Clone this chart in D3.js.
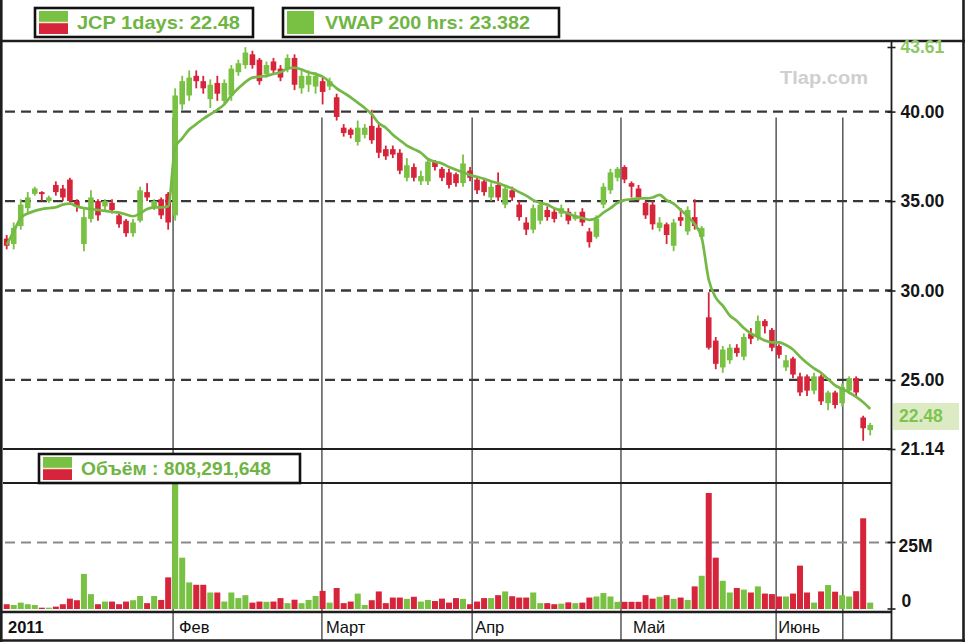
<!DOCTYPE html>
<html>
<head>
<meta charset="utf-8">
<script src="https://cdn.jsdelivr.net/npm/d3@7"></script>
<style>
  html, body { margin: 0; padding: 0; background: #fff; }
  svg { display: block; font-family: "Liberation Sans", Arial, Helvetica, sans-serif; }
</style>
</head>
<body>
<svg id="chart" width="965" height="642"></svg>
<script>
// daily bars, JCP, early 2011
const opens = [
  32.9, 32.6, 33.6, 34.6, 35.4, 35.5, 35.0, 35.9, 35.7, 36.2,
  35.0, 32.6, 34.0, 35.0, 34.7, 34.9, 34.2, 33.9, 33.2, 33.9,
  35.5, 34.6, 35.1, 35.4, 34.2, 40.4, 40.9, 42.0, 41.7, 40.7,
  41.6, 40.6, 40.9, 42.2, 42.6, 43.2, 42.9, 42.1, 42.8, 42.4,
  42.4, 43.0, 41.3, 41.5, 41.4, 41.7, 41.4, 40.8, 39.1, 39.0,
  38.3, 38.7, 39.2, 39.1, 37.9, 37.9, 37.7, 36.3, 36.9, 36.1,
  36.1, 37.2, 36.8, 36.6, 36.5, 36.0, 36.7, 36.2, 36.1, 35.2,
  35.9, 34.8, 35.6, 34.8, 33.8, 33.4, 33.9, 34.5, 34.4, 34.3,
  34.4, 34.0, 34.4, 33.3, 33.0, 34.8, 35.6, 36.3, 36.9, 36.0,
  35.7, 34.9, 34.8, 33.5, 33.7, 32.5, 34.1, 33.3, 34.1, 33.0,
  28.5, 27.2, 25.7, 26.1, 26.8, 26.3, 27.6, 27.4, 28.3, 27.8,
  26.9, 25.7, 26.2, 25.2, 25.2, 24.4, 25.2, 23.7, 24.3, 23.7,
  24.4, 25.1, 22.9, 22.2
];
const highs = [
  33.1, 33.8, 35.1, 35.5, 35.8, 35.55, 35.3, 36.1, 35.9, 36.3,
  35.1, 34.6, 35.6, 35.1, 35.1, 35.1, 34.4, 34.0, 34.0, 35.8,
  36.0, 35.1, 35.2, 35.5, 41.3, 42.0, 42.3, 42.3, 42.0, 41.8,
  42.0, 41.8, 42.6, 42.9, 43.6, 43.4, 43.0, 42.8, 43.0, 42.6,
  43.2, 43.2, 42.3, 42.3, 42.2, 41.9, 41.9, 41.0, 39.3, 39.1,
  39.5, 39.3, 40.1, 39.3, 38.1, 38.1, 37.9, 37.4, 37.1, 36.7,
  37.3, 37.3, 36.9, 36.8, 36.6, 37.6, 36.9, 36.3, 36.2, 36.0,
  36.6, 35.9, 35.8, 35.0, 34.1, 34.8, 35.0, 34.7, 34.6, 34.8,
  34.6, 34.4, 34.6, 33.5, 34.2, 36.0, 36.8, 36.9, 37.0, 36.1,
  35.9, 35.0, 35.0, 34.1, 33.8, 34.0, 34.6, 34.7, 35.1, 33.6,
  29.9, 27.4, 26.9, 27.0, 27.0, 27.6, 27.9, 28.6, 28.4, 27.9,
  27.0, 26.4, 26.3, 25.4, 25.3, 25.4, 25.3, 24.4, 24.4, 24.8,
  25.2, 25.2, 23.0, 22.6
];
const lows = [
  32.3, 32.3, 33.4, 34.3, 35.3, 35.0, 34.9, 35.3, 35.0, 34.9,
  34.4, 32.2, 33.8, 33.9, 34.5, 34.3, 33.5, 33.0, 33.0, 33.8,
  35.0, 34.5, 34.0, 33.4, 33.9, 40.1, 40.6, 41.3, 41.0, 40.2,
  40.6, 40.4, 40.6, 42.0, 42.4, 42.4, 41.5, 41.9, 42.1, 41.7,
  42.2, 41.2, 41.0, 41.1, 41.0, 40.4, 41.2, 39.5, 38.6, 38.5,
  38.1, 38.5, 38.2, 37.4, 37.3, 37.4, 36.5, 36.1, 36.1, 35.9,
  35.9, 36.7, 36.1, 35.7, 35.8, 35.8, 36.1, 35.4, 35.3, 35.0,
  35.0, 34.6, 35.0, 33.9, 33.1, 33.2, 33.7, 33.9, 33.8, 34.1,
  33.7, 33.9, 33.6, 32.4, 32.9, 34.6, 35.4, 36.1, 36.0, 35.2,
  35.0, 34.0, 33.4, 33.3, 32.6, 32.2, 33.6, 33.1, 33.4, 32.8,
  26.7, 25.6, 25.4, 25.9, 26.3, 26.1, 27.0, 27.2, 27.6, 26.6,
  26.2, 25.5, 25.1, 24.1, 24.1, 24.2, 23.6, 23.3, 23.4, 23.5,
  24.2, 24.0, 21.6, 21.9
];
const closes = [
  32.5, 33.5, 34.8, 35.2, 35.7, 35.4, 35.2, 35.5, 35.2, 35.0,
  34.7, 34.1, 35.2, 34.2, 35.0, 34.5, 33.7, 33.2, 33.8, 35.6,
  35.2, 35.0, 34.2, 33.8, 40.9, 41.7, 41.9, 41.7, 41.3, 41.5,
  41.0, 41.6, 42.4, 42.7, 43.3, 42.6, 41.7, 42.6, 42.3, 41.9,
  43.0, 41.5, 42.0, 42.0, 42.0, 41.1, 41.7, 39.7, 38.8, 38.7,
  39.1, 39.1, 38.4, 37.7, 37.5, 37.6, 36.7, 37.0, 36.3, 36.4,
  37.2, 36.9, 36.3, 35.9, 36.0, 37.1, 36.3, 35.6, 35.5, 35.8,
  35.2, 35.7, 35.2, 34.1, 33.4, 34.6, 34.8, 34.1, 34.0, 34.6,
  33.9, 34.2, 33.8, 32.7, 34.0, 35.8, 36.6, 36.8, 36.2, 35.8,
  35.2, 34.2, 33.7, 33.8, 33.1, 33.8, 33.9, 34.5, 33.6, 33.5,
  26.8, 25.9, 26.7, 26.8, 26.5, 27.4, 27.3, 28.3, 28.0, 26.8,
  26.4, 26.1, 25.3, 24.3, 24.4, 25.2, 23.8, 24.3, 23.6, 24.6,
  25.1, 24.3, 22.3, 22.48
];
// volume, millions of shares
const volumes = [
  1.8, 1.5, 2.4, 1.8, 1.5, 0.5, 0.5, 0.9, 1.8, 3.9,
  3.3, 13.2, 5.6, 1.8, 2.8, 2.8, 1.8, 2.8, 3.3, 4.9,
  2.2, 4.9, 3.4, 11.9, 47.4, 19.3, 10.0, 9.1, 9.1, 6.2,
  6.2, 2.8, 6.2, 4.1, 5.2, 2.4, 2.8, 2.7, 2.8, 4.1,
  2.2, 3.5, 2.2, 3.4, 4.9, 6.8, 2.4, 7.9, 2.2, 2.8,
  5.8, 1.5, 3.3, 6.6, 2.2, 4.3, 4.3, 3.8, 4.6, 2.8,
  3.4, 3.0, 3.9, 2.4, 4.1, 3.8, 1.8, 2.8, 4.1, 4.1,
  5.2, 6.6, 4.8, 4.3, 4.3, 6.2, 2.2, 2.2, 1.8, 2.0,
  2.5, 2.2, 2.4, 4.3, 4.7, 6.0, 4.7, 2.7, 2.7, 2.7,
  2.7, 5.2, 3.9, 4.6, 5.2, 3.8, 4.3, 3.4, 8.5, 12.5,
  43.6, 19.3, 10.6, 6.2, 7.9, 7.3, 6.2, 8.5, 5.8, 5.6,
  4.7, 4.7, 5.8, 16.3, 6.2, 2.4, 6.6, 9.0, 6.5, 5.2,
  4.7, 6.7, 34.1, 2.4
];
// VWAP 200 hrs, one value per bar
const vwap = [
  32.55, 33.3, 34.05, 34.3, 34.45, 34.55, 34.6, 34.65, 34.8, 34.85,
  34.7, 34.6, 34.55, 34.5, 34.45, 34.4, 34.35, 34.25, 34.15, 34.3,
  34.55, 34.65, 34.65, 34.7, 38.0, 38.5, 39.0, 39.3, 39.6, 39.85,
  40.1, 40.4, 40.9, 41.3, 41.65, 41.9, 41.95, 42.0, 42.1, 42.2,
  42.4, 42.45, 42.35, 42.2, 42.1, 41.95, 41.65, 41.3, 41.05, 40.8,
  40.5, 40.2, 39.85, 39.35, 39.1, 38.7, 38.4, 38.1, 37.9, 37.7,
  37.35, 37.2, 37.1, 36.9, 36.75, 36.6, 36.45, 36.35, 36.25, 36.1,
  36.0, 35.85, 35.7, 35.5, 35.3, 35.05, 34.9, 34.8, 34.6, 34.45,
  34.3, 34.15, 34.05, 33.95, 34.05, 34.35, 34.6, 34.9, 35.05, 35.1,
  35.15, 35.15, 35.2, 35.35, 35.05, 34.85, 34.5, 34.15, 33.7, 32.95,
  30.6, 29.6, 29.15, 28.6, 28.3, 27.9, 27.6, 27.4, 27.2, 27.1,
  27.1, 26.95, 26.7, 26.3, 25.95, 25.65, 25.4, 25.05, 24.7, 24.5,
  24.3, 24.05, 23.75, 23.38
];

// time axis: bar index where each month starts
const monthLabels = ['2011', 'Фев', 'Март', 'Апр', 'Май', 'Июнь', ''];
const monthPos = [0.2, 23.7, 44.9, 66.3, 87.5, 109.6, 119.1];

const priceTicks = [25, 30, 35, 40];
const priceMin = 21.14, priceMax = 43.61, lastPrice = 22.48;
const volTicks = [0, 25];
const volLabels = ['0', '25M'];

const GREEN = '#79c143', RED = '#d6243a', TXT_GREEN = '#6fb543';

const svg = d3.select('#chart');

// layout
const plotLeft = 3, plotRight = 891;
const priceTop = 42;
const volTop = 483, volBottom = 612;

const x = d3.scaleLinear().domain([0, opens.length - 1]).range([6.7, 870.2]);
const y = d3.scaleLinear().domain([priceMin, priceMax]).range([449, 47]);
const yv = d3.scaleLinear().domain([0, 25]).range([609, 542.5]);

svg.append('rect').attr('width', 965).attr('height', 642).attr('fill', '#fff');

// vertical month lines (behind everything)
svg.append('g').selectAll('line')
  .data(monthPos.slice(1))
  .join('line')
  .attr('x1', d => x(d)).attr('x2', d => x(d))
  .attr('y1', y(40) + 6).attr('y2', 640)
  .attr('stroke', '#4a4a4a').attr('stroke-width', 1.4);

// dashed price grid
svg.append('g').selectAll('line')
  .data(priceTicks)
  .join('line')
  .attr('x1', plotLeft + 2).attr('x2', plotRight)
  .attr('y1', d => y(d)).attr('y2', d => y(d))
  .attr('stroke', '#383838').attr('stroke-width', 2.3)
  .attr('stroke-dasharray', '10,6');

// dashed volume grid
svg.append('line')
  .attr('x1', plotLeft + 2).attr('x2', plotRight)
  .attr('y1', yv(25)).attr('y2', yv(25))
  .attr('stroke', '#8a8a8a').attr('stroke-width', 2)
  .attr('stroke-dasharray', '10,6');

// candles
const idx = d3.range(opens.length);
const candles = svg.append('g').selectAll('g')
  .data(idx)
  .join('g')
  .attr('fill', i => closes[i] >= opens[i] ? GREEN : RED)
  .attr('stroke', i => closes[i] >= opens[i] ? GREEN : RED);

candles.append('line')
  .attr('x1', i => x(i)).attr('x2', i => x(i))
  .attr('y1', i => y(highs[i])).attr('y2', i => y(lows[i]))
  .attr('stroke-width', 1.8);

candles.append('rect')
  .attr('x', i => x(i) - 2.8)
  .attr('width', 5.6)
  .attr('y', i => y(Math.max(opens[i], closes[i])))
  .attr('height', i => Math.max(2, Math.abs(y(opens[i]) - y(closes[i]))))
  .attr('stroke', 'none');

// VWAP line
svg.append('path')
  .datum(vwap)
  .attr('fill', 'none')
  .attr('stroke', '#74b946')
  .attr('stroke-width', 2.7)
  .attr('stroke-linejoin', 'round')
  .attr('d', d3.line().x((d, i) => x(i)).y(d => y(d)).curve(d3.curveMonotoneX));

// volume bars
svg.append('g').selectAll('rect')
  .data(idx)
  .join('rect')
  .attr('x', i => x(i) - 3)
  .attr('width', 6)
  .attr('y', i => yv(volumes[i]))
  .attr('height', i => yv(0) - yv(volumes[i]))
  .attr('fill', i => closes[i] >= opens[i] ? GREEN : RED);

// panel rules
const rules = svg.append('g').attr('stroke', '#1e1e1e');
rules.append('line').attr('x1', 0).attr('x2', 965).attr('y1', 41).attr('y2', 41).attr('stroke-width', 2.6);
rules.append('line').attr('x1', plotLeft).attr('x2', plotRight).attr('y1', y(priceMin)).attr('y2', y(priceMin)).attr('stroke-width', 2);
rules.append('line').attr('x1', plotLeft).attr('x2', plotRight).attr('y1', volTop).attr('y2', volTop).attr('stroke-width', 2);
rules.append('line').attr('x1', 0).attr('x2', plotRight).attr('y1', volBottom).attr('y2', volBottom).attr('stroke-width', 2.6);
rules.append('line').attr('x1', 0).attr('x2', 965).attr('y1', 640.5).attr('y2', 640.5).attr('stroke-width', 2.6);
rules.append('line').attr('x1', 1.3).attr('x2', 1.3).attr('y1', 0).attr('y2', 642).attr('stroke-width', 2.6);
rules.append('line').attr('x1', 963.5).attr('x2', 963.5).attr('y1', 0).attr('y2', 642).attr('stroke-width', 2.6);
rules.append('line').attr('x1', plotRight + 0.5).attr('x2', plotRight + 0.5).attr('y1', priceTop).attr('y2', 640).attr('stroke-width', 1.8);

// right price axis
const priceAxis = svg.append('g')
  .attr('transform', `translate(${plotRight + 0.5},0)`)
  .call(d3.axisRight(y).tickValues([priceMin, ...priceTicks, priceMax]).tickFormat(d3.format('.2f')).tickSize(4).tickPadding(5));
priceAxis.select('.domain').remove();
priceAxis.selectAll('.tick line').attr('x1', -4).attr('stroke', '#1e1e1e').attr('stroke-width', 1.6);
priceAxis.selectAll('.tick text')
  .attr('font-family', '"Liberation Sans", Arial, sans-serif')
  .attr('font-size', 17.5).attr('font-weight', 'bold')
  .attr('fill', d => d === priceMax ? '#8cc864' : '#151515');

// last price marker
const lastG = svg.append('g').attr('transform', `translate(${plotRight + 2},${y(lastPrice) - 9})`);
lastG.append('rect').attr('x', 0).attr('y', -13).attr('width', 66).attr('height', 27).attr('fill', '#dcebc4');
lastG.append('text').attr('x', 6).attr('y', 0).attr('dy', '0.35em')
  .attr('font-size', 17.5).attr('font-weight', 'bold').attr('fill', '#7cc44c').text(lastPrice.toFixed(2));

// right volume axis
const volAxis = svg.append('g').attr('transform', `translate(${plotRight + 0.5},0)`);
volAxis.selectAll('line').data(volTicks).join('line')
  .attr('x1', -4).attr('x2', 4)
  .attr('y1', d => yv(d)).attr('y2', d => yv(d))
  .attr('stroke', '#1e1e1e').attr('stroke-width', 1.6);
volAxis.selectAll('text').data(volTicks).join('text')
  .attr('x', (d, i) => i === 0 ? 10 : 7)
  .attr('y', d => d === 0 ? yv(d) - 8 : yv(d) + 3)
  .attr('dy', '0.35em')
  .attr('font-size', 17.5).attr('font-weight', 'bold').attr('fill', '#151515')
  .text((d, i) => volLabels[i]);

// month labels
const monthOffset = [0, 6, 4, 3, 12, 2, 0];
svg.append('g').selectAll('text').data(monthPos).join('text')
  .attr('x', (d, i) => i === 0 ? 8 : x(d) + monthOffset[i])
  .attr('y', 633)
  .attr('font-size', 16.5)
  .attr('font-weight', (d, i) => i === 0 ? 'bold' : 'normal')
  .attr('fill', '#111')
  .text((d, i) => monthLabels[i]);

// legend boxes
function legendBox(g, bx, by, bw, bh, swatch, label, textW) {
  g.append('rect').attr('x', bx).attr('y', by).attr('width', bw).attr('height', bh)
    .attr('fill', '#fff').attr('stroke', '#111').attr('stroke-width', 2.6);
  const sx = bx + 4, sy = by + 3, sw = 29, sh = bh - 6;
  if (swatch === 'split') {
    g.append('rect').attr('x', sx).attr('y', sy).attr('width', sw).attr('height', sh / 2).attr('fill', GREEN);
    g.append('rect').attr('x', sx).attr('y', sy + sh / 2).attr('width', sw).attr('height', sh / 2).attr('fill', RED);
    g.append('line').attr('x1', sx).attr('x2', sx + sw).attr('y1', sy + sh / 2).attr('y2', sy + sh / 2)
      .attr('stroke', '#f4efc8').attr('stroke-width', 1.5);
  } else {
    g.append('rect').attr('x', sx).attr('y', sy).attr('width', sw - 2).attr('height', sh).attr('fill', GREEN);
  }
  g.append('text').attr('x', sx + sw + 9).attr('y', by + bh / 2).attr('dy', '0.36em')
    .attr('font-size', 18).attr('font-weight', 'bold').attr('fill', TXT_GREEN)
    .attr('textLength', textW).attr('lengthAdjust', 'spacingAndGlyphs')
    .text(label);
}
const legends = svg.append('g');
legendBox(legends, 35, 8, 218, 29, 'split', 'JCP 1days: 22.48', 163);
legendBox(legends, 283, 8, 276, 29, 'solid', 'VWAP 200 hrs: 23.382', 205);
legendBox(legends, 39, 454, 261, 29, 'split', 'Объём : 808,291,648', 190);

// watermark
svg.append('text').attr('x', 780).attr('y', 84)
  .attr('font-size', 19).attr('font-weight', 'bold').attr('fill', '#cfcfcf')
  .attr('textLength', 88).attr('lengthAdjust', 'spacingAndGlyphs')
  .text('Tlap.com');
</script>
</body>
</html>
